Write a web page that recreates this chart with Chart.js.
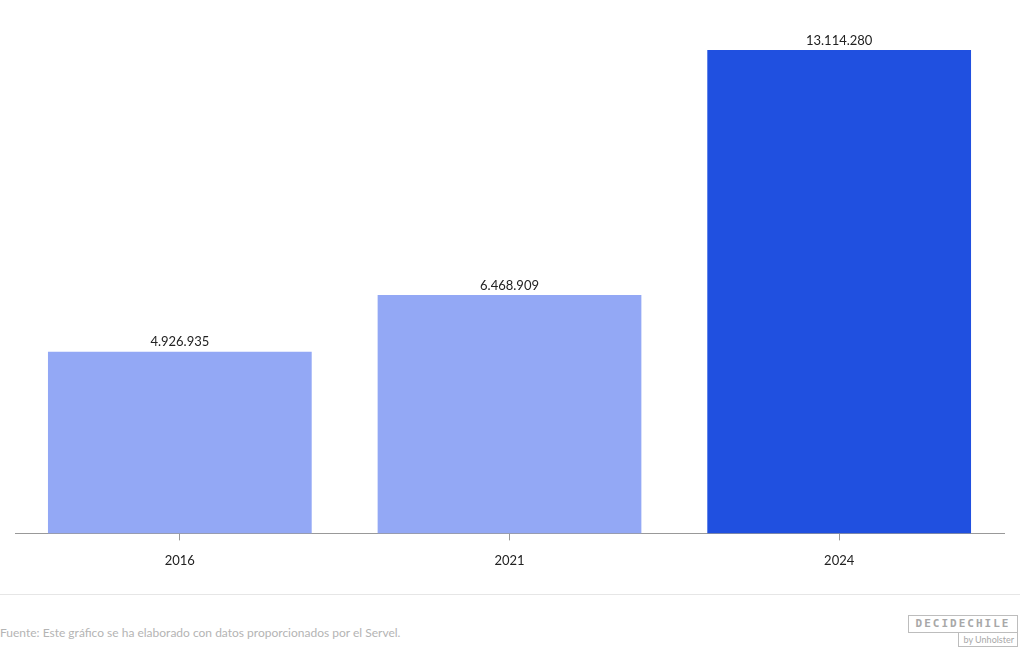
<!DOCTYPE html>
<html>
<head>
<meta charset="utf-8">
<script src="https://cdn.jsdelivr.net/npm/chart.js@4"></script>
<style>
  body { margin: 0; background: #fff; font-family: Lato, sans-serif; }
  #wrap { position: relative; width: 1020px; height: 590px; }
  #pie { position: absolute; left: 0; top: 594px; width: 1020px; height: 56px; border-top: 1px solid #e6e6e6; }
  #fuente { position: absolute; left: 0; top: 30px; font-size: 12px; color: #b4b4b4; }
  #logo { position: absolute; left: 908px; top: 20px; width: 110px; }
  #logo .a { border: 1px solid #bdbdbd; color: #a8a8a8; font-family: "DejaVu Sans Mono", monospace; font-weight: bold; font-size: 11px; letter-spacing: 2px; text-align: center; height: 16px; line-height: 16px; }
  #logo .b { margin-left: 50px; border: 1px solid #bdbdbd; border-top: none; color: #a8a8a8; font-size: 9px; text-align: right; padding-right: 3px; height: 13px; line-height: 13px; }
</style>
</head>
<body>
<div id="wrap"><canvas id="graficoVotantes"></canvas></div>
<div id="pie">
  <div id="fuente">Fuente: Este gráfico se ha elaborado con datos proporcionados por el Servel.</div>
  <div id="logo"><div class="a">DECIDECHILE</div><div class="b">by Unholster</div></div>
</div>
<script>
// datos del gráfico
const anios = ["2016", "2021", "2024"];
const votantes = [4926935, 6468909, 13114280];
const colores = ["#93a8f5", "#93a8f5", "#2050e0"];

function formatoMiles(n) {
    return String(n).replace(/\B(?=(\d{3})+(?!\d))/g, ".");
}

// etiqueta con el valor encima de cada barra
const etiquetasBarras = {
    id: 'etiquetasBarras',
    afterDatasetsDraw(chart) {
        const ctx = chart.ctx;
        const meta = chart.getDatasetMeta(0);
        ctx.save();
        ctx.font = '13px Lato, sans-serif';
        ctx.fillStyle = '#222';
        ctx.textAlign = 'center';
        ctx.textBaseline = 'bottom';
        meta.data.forEach((bar, i) => {
            ctx.fillText(formatoMiles(votantes[i]), bar.x, bar.y - 3);
        });
        ctx.restore();
    }
};

function inicializarGrafico(canvasId) {
    const canvas = document.getElementById(canvasId);
    if (!canvas) {
        console.error('No se encontró el canvas:', canvasId);
        return;
    }
    new Chart(canvas, {
        type: 'bar',
        data: {
            labels: anios,
            datasets: [{
                data: votantes,
                backgroundColor: colores,
                categoryPercentage: 0.8,
                barPercentage: 1
            }]
        },
        options: {
            responsive: true,
            maintainAspectRatio: false,
            animation: false,
            layout: { padding: { top: 50, left: 15, right: 16, bottom: 8 } },
            plugins: { legend: { display: false }, tooltip: { enabled: false } },
            scales: {
                x: {
                    grid: { display: true, offset: false, drawOnChartArea: false, tickLength: 7, color: '#999' },
                    border: { color: '#999' },
                    ticks: { color: '#222', font: { family: 'Lato', size: 13 }, padding: 13 }
                },
                y: {
                    display: false,
                    min: 0,
                    max: 13114280
                }
            }
        },
        plugins: [etiquetasBarras]
    });
}

document.addEventListener('DOMContentLoaded', () => {
    inicializarGrafico('graficoVotantes');
});
</script>
</body>
</html>
